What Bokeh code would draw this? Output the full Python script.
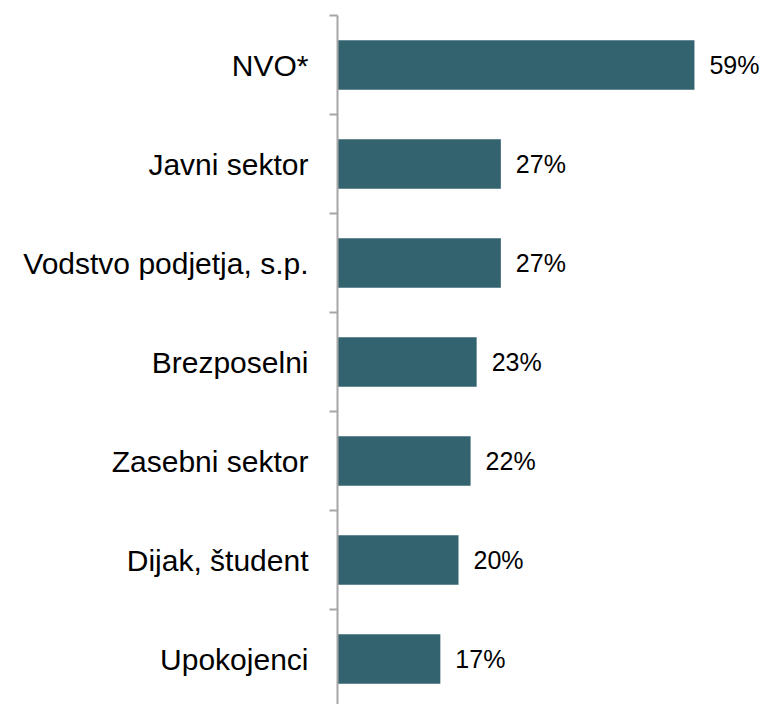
from bokeh.plotting import figure
from bokeh.models import ColumnDataSource, Range1d, FixedTicker
from bokeh.core.properties import value
from bokeh.embed import file_html
from bokeh.resources import INLINE

categories = ["NVO*", "Javni sektor", "Vodstvo podjetja, s.p.", "Brezposelni",
              "Zasebni sektor", "Dijak, študent", "Upokojenci"]
values = [59, 27, 27, 23, 22, 20, 17]
labels = ["59%", "27%", "27%", "23%", "22%", "20%", "17%"]

n = len(categories)
ypos = [n - i - 0.5 for i in range(n)]

src = ColumnDataSource(dict(y=ypos, v=values, lab=labels, cat=categories))

W, H = 765, 704
left = 337
top = 15
frame_w = W - left
frame_h = H - top
px_per_cat = 99.0
px_per_val = 6.05

p = figure(width=W, height=H, output_backend="svg", toolbar_location=None,
           x_range=Range1d(0, frame_w / px_per_val),
           y_range=Range1d(n - frame_h / px_per_cat, n),
           x_axis_location=None, min_border_left=left, min_border_right=0,
           min_border_top=top, min_border_bottom=0)
p.outline_line_color = None
p.xgrid.visible = False
p.ygrid.visible = False

p.hbar(y="y", right="v", left=0, height=0.5, source=src,
       fill_color="#32636f", line_color=None)

p.text(x="v", y="y", text="lab", source=src, x_offset=15,
       text_baseline="middle", text_align="left",
       text_font=value("Liberation Sans"), text_font_size="25px",
       text_color="#000000")

ax = p.yaxis[0]
ax.ticker = FixedTicker(ticks=ypos, minor_ticks=list(range(n + 1)))
ax.major_label_overrides = {y: c for y, c in zip(ypos, categories)}
ax.major_tick_out = 0
ax.major_tick_in = 0
ax.minor_tick_out = 8
ax.minor_tick_in = 0
ax.minor_tick_line_color = "#a6a6a6"
ax.minor_tick_line_width = 2
ax.axis_line_color = "#a6a6a6"
ax.axis_line_width = 2
ax.major_label_standoff = 21
ax.major_label_text_font = "Liberation Sans"
ax.major_label_text_font_size = "30px"
ax.major_label_text_color = "#000000"

open("out.html", "w").write(file_html(p, INLINE))
